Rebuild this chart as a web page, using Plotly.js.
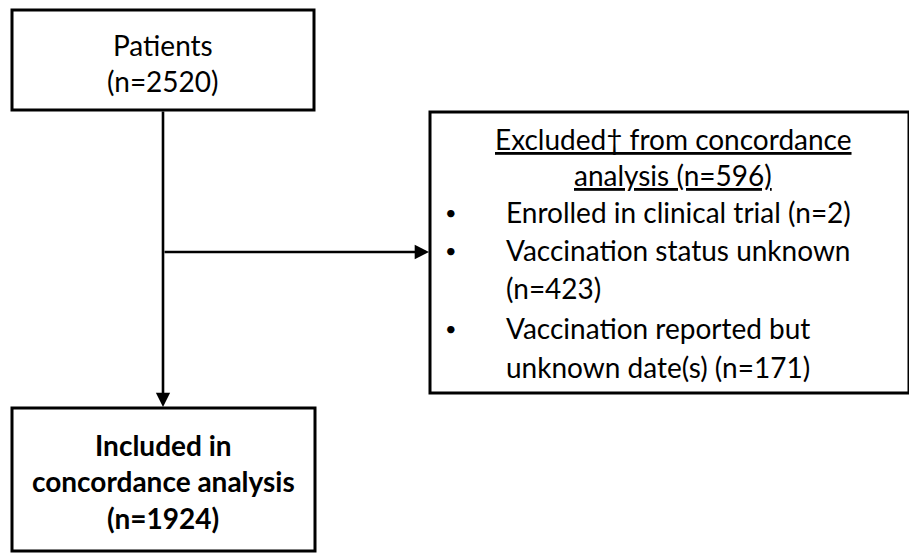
<!DOCTYPE html>
<html><head><meta charset="utf-8">
<script src="https://cdn.plot.ly/plotly-3.0.1.min.js"></script>
<style>html,body{margin:0;padding:0;background:#fff}#chart{width:909px;height:553px}</style>
</head><body><div id="chart"></div>
<script>
// Data
const startLabel = ["Patients"];
const startCount = [2520];
const excludedTitle = ["Excluded† from concordance", "analysis"];
const excludedCount = [596];
const exclusionReasons = [
  ["Enrolled in clinical trial"],
  ["Vaccination status unknown", ""],
  ["Vaccination reported but", "unknown date(s)"]
];
const exclusionCounts = [2, 423, 171];
const includedLabel = ["Included in", "concordance analysis"];
const includedCount = [1924];

const FONT = "Lato, 'Open Sans', sans-serif";
const FS = 28;
const lineColor = "#000";

const shapes = [];
const annotations = [];

function box(x0, y0, x1, y1) {
  shapes.push({type: "rect", xref: "x", yref: "y", x0, y0, x1, y1,
    line: {color: lineColor, width: 3}, fillcolor: "rgba(0,0,0,0)"});
}
function txt(x, y, text, anchor, bold, size) {
  annotations.push({x, y, xref: "x", yref: "y", text: bold ? "<b>" + text + "</b>" : text,
    showarrow: false, xanchor: anchor || "center", yanchor: "middle",
    font: {family: FONT, size: size || FS, color: "#000"}});
}
function arrow(x0, y0, x1, y1) {
  annotations.push({x: x1, y: y1, ax: x0, ay: y0, xref: "x", yref: "y", axref: "x", ayref: "y",
    text: "", showarrow: true, arrowhead: 2, arrowsize: 1.1, arrowwidth: 2.6, arrowcolor: lineColor, standoff: 0});
}

// Boxes
box(12, 10, 314, 110);
box(430, 112, 909, 393);
box(12, 408, 315, 551);

// Arrows
arrow(163, 110, 163, 407);
arrow(163, 252, 429, 252);

// Start box text
txt(163, 45, startLabel[0]);
txt(163, 81, "(n=" + startCount[0] + ")");

// Excluded box
txt(673, 139, "<u>" + excludedTitle[0] + "</u>");
txt(673, 175, "<u>" + excludedTitle[1] + " (n=" + excludedCount[0] + ")</u>");
const lineYs = [[212], [250, 288], [328, 367]];
exclusionReasons.forEach((lines, i) => {
  txt(451, lineYs[i][0], "•", "center", false, 20);
  lines.forEach((l, j) => {
    let t = l;
    const last = j === lines.length - 1;
    if (last) t = (l ? l + " " : "") + "(n=" + exclusionCounts[i] + ")";
    txt(504, lineYs[i][j], t, "left");
  });
});

// Included box
txt(163, 445, includedLabel[0], "center", true);
txt(163, 481, includedLabel[1], "center", true);
txt(163, 518, "(n=" + includedCount[0] + ")", "center", true);

const layout = {
  width: 909, height: 553,
  margin: {l: 0, r: 0, t: 0, b: 0},
  paper_bgcolor: "#fff", plot_bgcolor: "#fff",
  xaxis: {range: [0, 909], visible: false, fixedrange: true},
  yaxis: {range: [553, 0], visible: false, fixedrange: true},
  shapes, annotations, showlegend: false
};
Plotly.newPlot("chart", [], layout, {staticPlot: true});
</script></body></html>
